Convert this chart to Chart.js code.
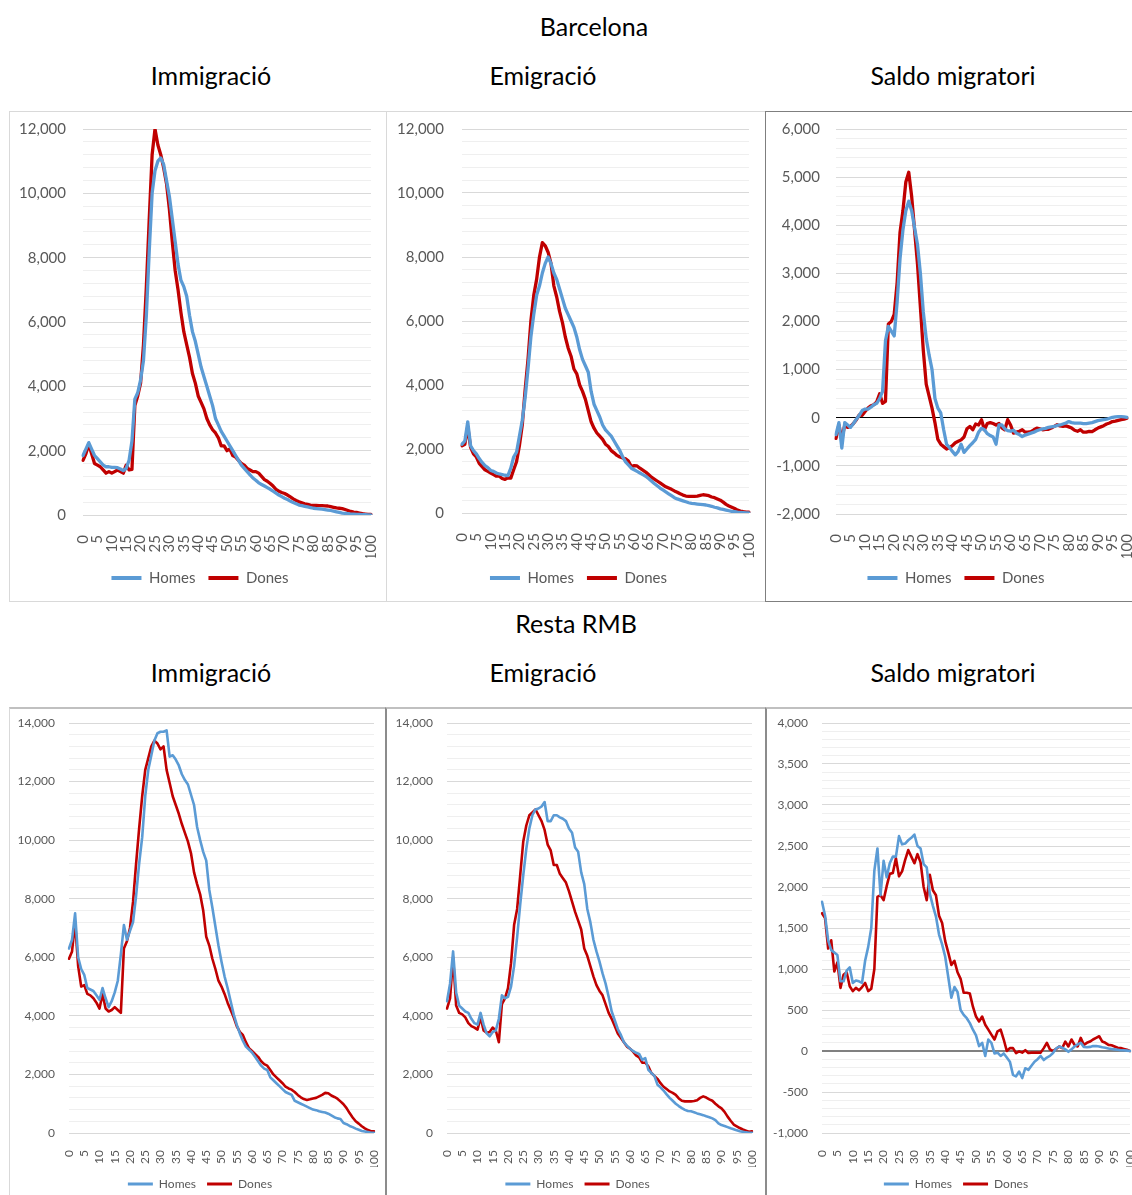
<!DOCTYPE html>
<html><head><meta charset="utf-8">
<script src="https://cdn.jsdelivr.net/npm/chart.js@4.4.0/dist/chart.umd.min.js"></script>
<style>
html,body{margin:0;padding:0;background:#fff;}
body{width:1132px;height:1195px;position:relative;overflow:hidden;font-family:Lato,"Open Sans",sans-serif;}
.t{position:absolute;width:400px;text-align:center;font-size:25px;line-height:25px;color:#000;white-space:nowrap;}
.b{position:absolute;box-sizing:border-box;}
canvas{position:absolute;}
</style></head><body>
<div class="t" style="left:394px;top:14px">Barcelona</div>
<div class="t" style="left:11px;top:63px">Immigració</div>
<div class="t" style="left:343px;top:63px">Emigració</div>
<div class="t" style="left:753px;top:63px">Saldo migratori</div>
<div class="t" style="left:376px;top:611px">Resta RMB</div>
<div class="t" style="left:11px;top:660px">Immigració</div>
<div class="t" style="left:343px;top:660px">Emigració</div>
<div class="t" style="left:753px;top:660px">Saldo migratori</div>

<div class="b" style="left:9px;top:111px;width:378px;height:491px;border:1px solid #d9d9d9"></div>
<div class="b" style="left:386px;top:111px;width:380px;height:491px;border:1px solid #d9d9d9"></div>
<div class="b" style="left:765px;top:111px;width:380px;height:491px;border:1px solid #7f7f7f"></div>
<div class="b" style="left:9px;top:707px;width:378px;height:520px;border:1px solid #d9d9d9;border-top:2px solid #c0c0c0"></div>
<div class="b" style="left:385px;top:707px;width:382px;height:520px;border:2px solid #8c8c8c;border-top:2px solid #c0c0c0"></div>
<div class="b" style="left:765px;top:707px;width:380px;height:520px;border:2px solid #8c8c8c;border-top:2px solid #c0c0c0"></div>

<canvas id="c1"></canvas><canvas id="c2"></canvas><canvas id="c3"></canvas>
<canvas id="c4"></canvas><canvas id="c5"></canvas><canvas id="c6"></canvas>
<script>
const BLUE = '#5b9bd5', RED = '#c00000';
const seriesNames = ['Homes', 'Dones'];
const ages = Array.from({length: 101}, (_, i) => String(i));
const xLabelEvery = 5;

// Y tick labels (major) per chart
const bcnFlowTicks = [0, 2000, 4000, 6000, 8000, 10000, 12000];
const bcnSaldoTicks = [-2000, -1000, 0, 1000, 2000, 3000, 4000, 5000, 6000];
const rmbFlowTicks = [0, 2000, 4000, 6000, 8000, 10000, 12000, 14000];
const rmbSaldoTicks = [-1000, -500, 0, 500, 1000, 1500, 2000, 2500, 3000, 3500, 4000];

// Barcelona - Immigració
const bcnImmHomes = [1850,2050,2250,2050,1850,1750,1650,1550,1500,1500,
1480,1480,1470,1430,1380,1450,1700,2300,3600,3800,
4200,4800,6200,8200,10000,10700,11000,11100,10900,10400,
9900,9200,8500,7800,7300,7100,6800,6200,5700,5400,
5000,4600,4300,4000,3700,3400,3000,2800,2600,2450,
2300,2150,2000,1850,1700,1550,1450,1350,1250,1150,
1080,1000,950,900,850,800,740,680,620,570,
520,480,430,390,350,310,290,270,250,230,
210,200,190,180,170,155,140,120,100,80,
60,50,40,30,25,20,15,10,10,5,5];
const bcnImmDones = [1700,1900,2200,1900,1600,1550,1500,1400,1300,1350,
1300,1350,1400,1350,1300,1550,1400,1420,3400,3700,
4100,5300,7100,9200,11200,12000,11500,11200,10800,10300,
9500,8500,7600,7000,6300,5700,5300,4900,4400,4100,
3700,3500,3300,3000,2800,2650,2550,2400,2150,2150,
2000,2050,1850,1800,1700,1600,1550,1450,1400,1350,
1350,1300,1200,1100,1050,980,900,800,740,700,
670,620,560,500,450,410,380,350,330,310,
300,295,290,290,285,280,260,240,220,210,
200,170,140,110,90,80,60,40,30,20,20];

// Barcelona - Emigració
const bcnEmiHomes = [2150,2250,2850,2100,1950,1850,1700,1580,1480,1420,
1330,1300,1250,1220,1200,1180,1170,1400,1750,1900,
2400,2900,3600,4500,5500,6200,6800,7100,7500,7800,
8000,7800,7500,7300,7000,6700,6400,6200,6000,5800,
5500,5100,4800,4600,4400,3800,3400,3200,3000,2750,
2600,2500,2400,2250,2100,1950,1750,1600,1500,1400,
1350,1300,1250,1200,1150,1080,1000,920,850,780,
720,660,600,540,480,440,410,380,350,320,
300,290,280,270,260,250,230,210,180,160,
130,110,90,70,50,40,25,15,10,5,5];
const bcnEmiDones = [2100,2150,2700,2050,1850,1750,1550,1450,1350,1300,
1250,1200,1150,1150,1080,1050,1100,1090,1350,1600,
2100,2750,3850,4800,6000,6800,7300,8000,8450,8350,
8150,7800,7100,6750,6300,5950,5500,5150,4900,4500,
4350,4000,3800,3550,3200,2850,2650,2500,2400,2300,
2150,2080,1950,1880,1800,1750,1720,1690,1620,1450,
1480,1470,1400,1340,1280,1200,1120,1060,1000,940,
880,820,780,740,690,650,600,560,530,520,
520,520,530,550,570,560,540,500,480,440,
400,340,270,220,180,140,90,60,40,30,30];

// Barcelona - Saldo migratori
const bcnSalHomes = [-350,-100,-630,-100,-150,-200,-120,-30,50,150,
180,180,220,270,300,400,550,1600,1900,1800,
1700,2400,3300,3900,4300,4500,4300,3950,3600,3000,
2200,1650,1300,1000,400,200,100,-250,-550,-620,
-700,-770,-700,-550,-720,-650,-580,-520,-450,-300,
-220,-250,-330,-370,-400,-550,-150,-150,-230,-270,
-280,-260,-320,-350,-390,-360,-340,-320,-300,-270,
-250,-230,-220,-200,-190,-180,-160,-150,-130,-110,
-80,-100,-110,-110,-110,-120,-120,-110,-100,-80,
-60,-50,-40,-30,-10,10,20,25,25,20,10];
const bcnSalDones = [-430,-150,-450,-150,-200,-180,-120,-40,60,50,
130,200,250,270,330,500,300,340,1950,2000,
2150,2800,3850,4300,4900,5100,4600,3900,3200,2300,
1400,700,450,200,-100,-450,-550,-600,-650,-620,
-580,-520,-490,-460,-400,-230,-180,-250,-130,-150,
-40,-250,-120,-100,-120,-150,-120,-210,-250,-40,
-150,-320,-300,-280,-250,-300,-300,-290,-250,-215,
-230,-250,-240,-240,-215,-180,-145,-170,-180,-170,
-190,-215,-260,-280,-250,-300,-300,-285,-290,-250,
-215,-190,-165,-130,-110,-80,-70,-55,-40,-30,-10];

// Resta RMB - Immigració
const rmbImmHomes = [6300,6600,7500,6000,5600,5400,4950,4900,4850,4700,
4550,4950,4600,4300,4500,4800,5200,6100,7100,6600,
6900,7200,8100,9200,10100,11500,12400,12900,13400,13650,
13700,13700,13750,12850,12900,12750,12550,12250,12050,11900,
11550,11200,10450,10000,9600,9300,8300,7700,7050,6400,
5850,5350,4950,4500,4050,3700,3400,3150,2950,2850,
2750,2600,2450,2300,2200,2150,1900,1800,1700,1600,
1500,1400,1350,1300,1100,1050,1000,950,900,850,
800,780,740,720,700,660,600,540,500,480,
340,300,240,200,150,110,70,50,30,10,10];
const rmbImmDones = [5950,6200,7200,5700,5000,5050,4750,4700,4600,4450,
4250,4750,4250,4150,4200,4300,4200,4100,6300,6550,
7000,7900,9200,10400,11500,12400,12800,13200,13400,13300,
13100,13200,12400,11950,11500,11200,10900,10550,10250,9950,
9550,8900,8500,8150,7600,6700,6400,5950,5600,5200,
5000,4750,4450,4200,3950,3650,3450,3350,3100,2900,
2800,2700,2600,2450,2350,2300,2150,2000,1900,1800,
1700,1580,1520,1480,1400,1300,1220,1160,1130,1150,
1180,1200,1250,1300,1370,1360,1280,1230,1170,1080,
980,850,680,530,400,320,230,160,100,60,60];

// Resta RMB - Emigració
const rmbEmiHomes = [4500,5100,6200,4800,4350,4250,4150,4100,3900,3750,
3700,4100,3700,3400,3300,3450,3500,3900,4700,4600,
4650,5000,5700,6700,7800,8800,9700,10400,10850,11050,
11080,11150,11300,10650,10650,10850,10850,10780,10730,10650,
10400,10250,9750,9600,8900,8500,7650,7200,6600,6200,
5850,5450,5100,4650,4150,3850,3550,3350,3100,2980,
2880,2800,2740,2700,2500,2560,2160,2050,1950,1650,
1560,1450,1320,1200,1100,1000,920,850,790,750,
740,710,670,640,610,570,540,500,440,330,
270,240,200,160,130,90,60,40,20,10,5];
const rmbEmiDones = [4250,4600,6000,4350,4100,4050,3950,3750,3650,3600,
3530,3950,3500,3420,3450,3600,3500,3100,4400,4600,
4950,5800,7100,7650,8800,9950,10500,10850,10950,11050,
10850,10650,10350,9850,9650,9150,9150,8850,8700,8550,
8250,7900,7550,7250,6950,6300,6050,5700,5350,5050,
4850,4700,4400,4100,3900,3650,3400,3250,3100,2950,
2880,2780,2650,2580,2400,2400,2280,2050,1950,1850,
1700,1580,1500,1420,1370,1300,1180,1100,1080,1080,
1080,1090,1120,1200,1250,1210,1150,1100,1000,910,
840,720,560,420,290,230,170,120,80,40,60];

// Resta RMB - Saldo migratori
const rmbSalHomes = [1820,1650,1350,1230,1200,1170,850,850,980,1020,
830,860,850,830,1100,1270,1500,2200,2470,1900,
2320,2120,2290,2370,2370,2620,2520,2530,2570,2600,
2640,2500,2470,2280,2240,1920,1770,1640,1420,1300,
1150,900,650,780,720,500,440,400,340,260,
190,60,100,-60,140,100,-30,-20,-60,-30,
-80,-130,-290,-310,-250,-330,-210,-230,-180,-130,
-100,-60,-110,-80,-60,-25,30,55,40,20,
-10,20,55,80,100,50,45,50,60,60,
55,45,40,30,25,20,15,10,10,5,0];
const rmbSalDones = [1680,1620,1250,1350,970,1080,770,930,960,790,
730,770,740,780,830,730,760,1000,1880,1900,
1840,2010,2160,2170,2350,2130,2190,2330,2450,2370,
2290,2400,2300,2000,1840,2150,1960,1900,1650,1560,
1340,1200,1050,1100,960,880,710,710,700,540,
420,360,420,320,260,200,140,240,260,140,
0,35,35,-25,-5,-20,10,-25,-20,-20,
-20,-20,35,100,20,0,25,55,35,115,
55,140,75,55,160,75,100,115,140,160,
180,115,100,75,70,55,40,35,25,15,0];

Chart.defaults.font.family = 'Lato, "Open Sans", sans-serif';
const fmt = v => Number(v).toLocaleString('en-US');

// shifts the legend box horizontally after layout (legend centre as in the reference)
const legendShift = {
  id: 'legendShift',
  afterLayout(chart, args, opts) {
    const lg = chart.legend;
    if (!lg || !opts.dx) return;
    lg.left += opts.dx; lg.right += opts.dx;
  }
};

function makeChart(cfg) {
  const c = document.getElementById(cfg.id);
  c.width = cfg.w; c.height = cfg.h;
  c.style.left = cfg.x + 'px'; c.style.top = cfg.y + 'px';
  const L = cfg.lfs + cfg.lpad + 10;
  const pb = cfg.h - cfg.lfs / 2 - 10 - cfg.legendCY;
  const xH = cfg.h - pb - L - cfg.plotB;
  const pr = cfg.w - cfg.plotR;
  const dx = cfg.legendCX - (cfg.w - pr) / 2;
  const major = cfg.ticks[1] - cfg.ticks[0];
  const isMajor = v => Math.abs(v % major) < 1e-6;
  new Chart(c, {
    type: 'line',
    plugins: [legendShift],
    data: {
      labels: ages,
      datasets: [
        {label: seriesNames[0], data: cfg.homes, borderColor: BLUE, backgroundColor: BLUE, borderWidth: cfg.lw, pointRadius: 0, tension: 0, borderJoinStyle: 'round', borderCapStyle: 'round'},
        {label: seriesNames[1], data: cfg.dones, borderColor: RED, backgroundColor: RED, borderWidth: cfg.lw, pointRadius: 0, tension: 0, borderJoinStyle: 'round', borderCapStyle: 'round'}
      ]
    },
    options: {
      responsive: false, animation: false, devicePixelRatio: 1,
      layout: {padding: {left: 0, right: pr, top: cfg.plotT, bottom: pb}},
      plugins: {
        tooltip: {enabled: false},
        legendShift: {dx: dx},
        legend: {
          position: 'bottom',
          labels: {
            color: '#595959', font: {size: cfg.lfs}, boxWidth: cfg.bw, boxHeight: cfg.bh, padding: cfg.lpad,
            generateLabels: ch => Chart.defaults.plugins.legend.labels.generateLabels(ch).map(l => Object.assign(l, {lineWidth: 0}))
          }
        }
      },
      scales: {
        x: {
          type: 'category', offset: false,
          grid: {display: false}, border: {display: false},
          ticks: {autoSkip: false, maxRotation: 90, minRotation: 90, padding: cfg.xpad, color: '#595959', font: {size: cfg.tfs},
            callback: (v, i) => (i % xLabelEvery === 0 ? ages[i] : '')},
          afterFit: s => { s.height = xH; s.paddingLeft = 0; s.paddingRight = 0; }
        },
        y: {
          min: cfg.ticks[0], max: cfg.ticks[cfg.ticks.length - 1],
          border: {display: false},
          grid: {
            drawTicks: false,
            color: ctx => { const v = ctx.tick ? ctx.tick.value : 1; if (v === 0 && cfg.zeroColor) return cfg.zeroColor; return isMajor(v) ? '#d9d9d9' : '#efefef'; },
            lineWidth: ctx => { const v = ctx.tick ? ctx.tick.value : 1; if (v === 0 && cfg.zeroColor) return cfg.zeroWidth; return 1; }
          },
          ticks: {stepSize: cfg.minor, autoSkip: false, padding: cfg.ypad, color: '#595959', font: {size: cfg.tfs},
            callback: v => (isMajor(v) ? fmt(v) : '')},
          afterFit: s => { s.width = cfg.plotL; s.paddingTop = 0; s.paddingBottom = 0; }
        }
      }
    }
  });
}

const topRow = {h: 488, y: 112, tfs: 15, lfs: 15, lpad: 13, bw: 30, bh: 4, lw: 3.3, xpad: 12, legendCY: 466};
const botRow = {h: 500, y: 710, tfs: 12, lfs: 12, lpad: 11, bw: 25, bh: 3, lw: 2.6, xpad: 9, legendCY: 474};

makeChart(Object.assign({}, topRow, {id: 'c1', x: 10, w: 375, plotL: 73, plotR: 361, plotT: 17, plotB: 403, legendCX: 190, ypad: 17,
  homes: bcnImmHomes, dones: bcnImmDones, ticks: bcnFlowTicks, minor: 400}));
makeChart(Object.assign({}, topRow, {id: 'c2', x: 387, w: 377, plotL: 75, plotR: 362, plotT: 17, plotB: 401, legendCX: 191.5, ypad: 18,
  homes: bcnEmiHomes, dones: bcnEmiDones, ticks: bcnFlowTicks, minor: 400}));
makeChart(Object.assign({}, topRow, {id: 'c3', x: 766, w: 366, plotL: 70, plotR: 361, plotT: 17, plotB: 402, legendCX: 190, ypad: 16,
  homes: bcnSalHomes, dones: bcnSalDones, ticks: bcnSaldoTicks, minor: 200, zeroColor: '#000000', zeroWidth: 1}));
makeChart(Object.assign({}, botRow, {id: 'c4', x: 10, w: 375, plotL: 59, plotR: 364, plotT: 13, plotB: 423, legendCX: 190, ypad: 14,
  homes: rmbImmHomes, dones: rmbImmDones, ticks: rmbFlowTicks, minor: 400}));
makeChart(Object.assign({}, botRow, {id: 'c5', x: 388, w: 376, plotL: 59, plotR: 364, plotT: 13, plotB: 423, legendCX: 189.5, ypad: 14,
  homes: rmbEmiHomes, dones: rmbEmiDones, ticks: rmbFlowTicks, minor: 400}));
makeChart(Object.assign({}, botRow, {id: 'c6', x: 767, w: 365, plotL: 55, plotR: 363, plotT: 13, plotB: 423, legendCX: 189, ypad: 14,
  homes: rmbSalHomes, dones: rmbSalDones, ticks: rmbSaldoTicks, minor: 100, zeroColor: '#808080', zeroWidth: 2}));
</script>
</body></html>
